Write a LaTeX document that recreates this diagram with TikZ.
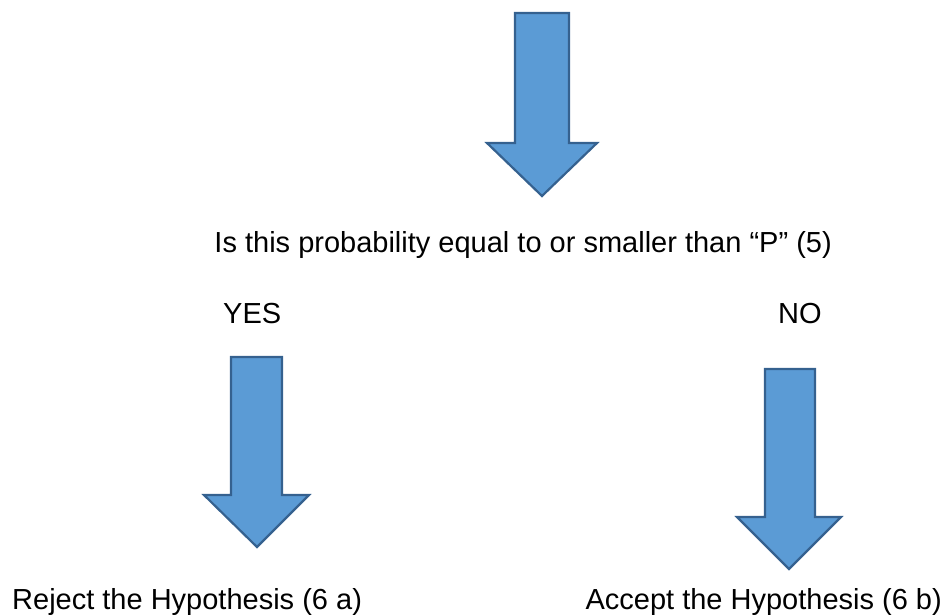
\documentclass[tikz,border=0pt]{standalone}
\usepackage{fontspec}
\setmainfont{Liberation Sans}
\definecolor{arrfill}{HTML}{5B9BD5}
\definecolor{arrline}{HTML}{35618F}
\begin{document}
\begin{tikzpicture}[x=1pt,y=-1pt,
  bigarrow/.style={fill=arrfill,draw=arrline,line width=2.2pt,line join=miter},
  lbl/.style={inner sep=0pt,font=\fontsize{29}{33}\selectfont}]
\useasboundingbox (0,0) rectangle (950,615);
% arrows
\draw[bigarrow] (515,13) -- (569,13) -- (569,143) -- (597,143) -- (542,196) -- (487,143) -- (515,143) -- cycle;
\draw[bigarrow] (231,357) -- (282,357) -- (282,495) -- (309,495) -- (257,547) -- (204,495) -- (231,495) -- cycle;
\draw[bigarrow] (765,369) -- (815,369) -- (815,517) -- (841,517) -- (789,569) -- (737,517) -- (765,517) -- cycle;
% texts
\node[lbl,anchor=base east] (q) at (832,252) {Is this probability equal to or smaller than “P” (5)};
\node[lbl,anchor=base west] (yes) at (223,323) {YES};
\node[lbl,anchor=base west] (no) at (778,323) {NO};
\node[lbl,anchor=base west] (rej) at (12,609) {Reject the Hypothesis (6 a)};
\node[lbl,anchor=base east] (acc) at (942,609) {Accept the Hypothesis (6 b)};
\end{tikzpicture}
\end{document}
